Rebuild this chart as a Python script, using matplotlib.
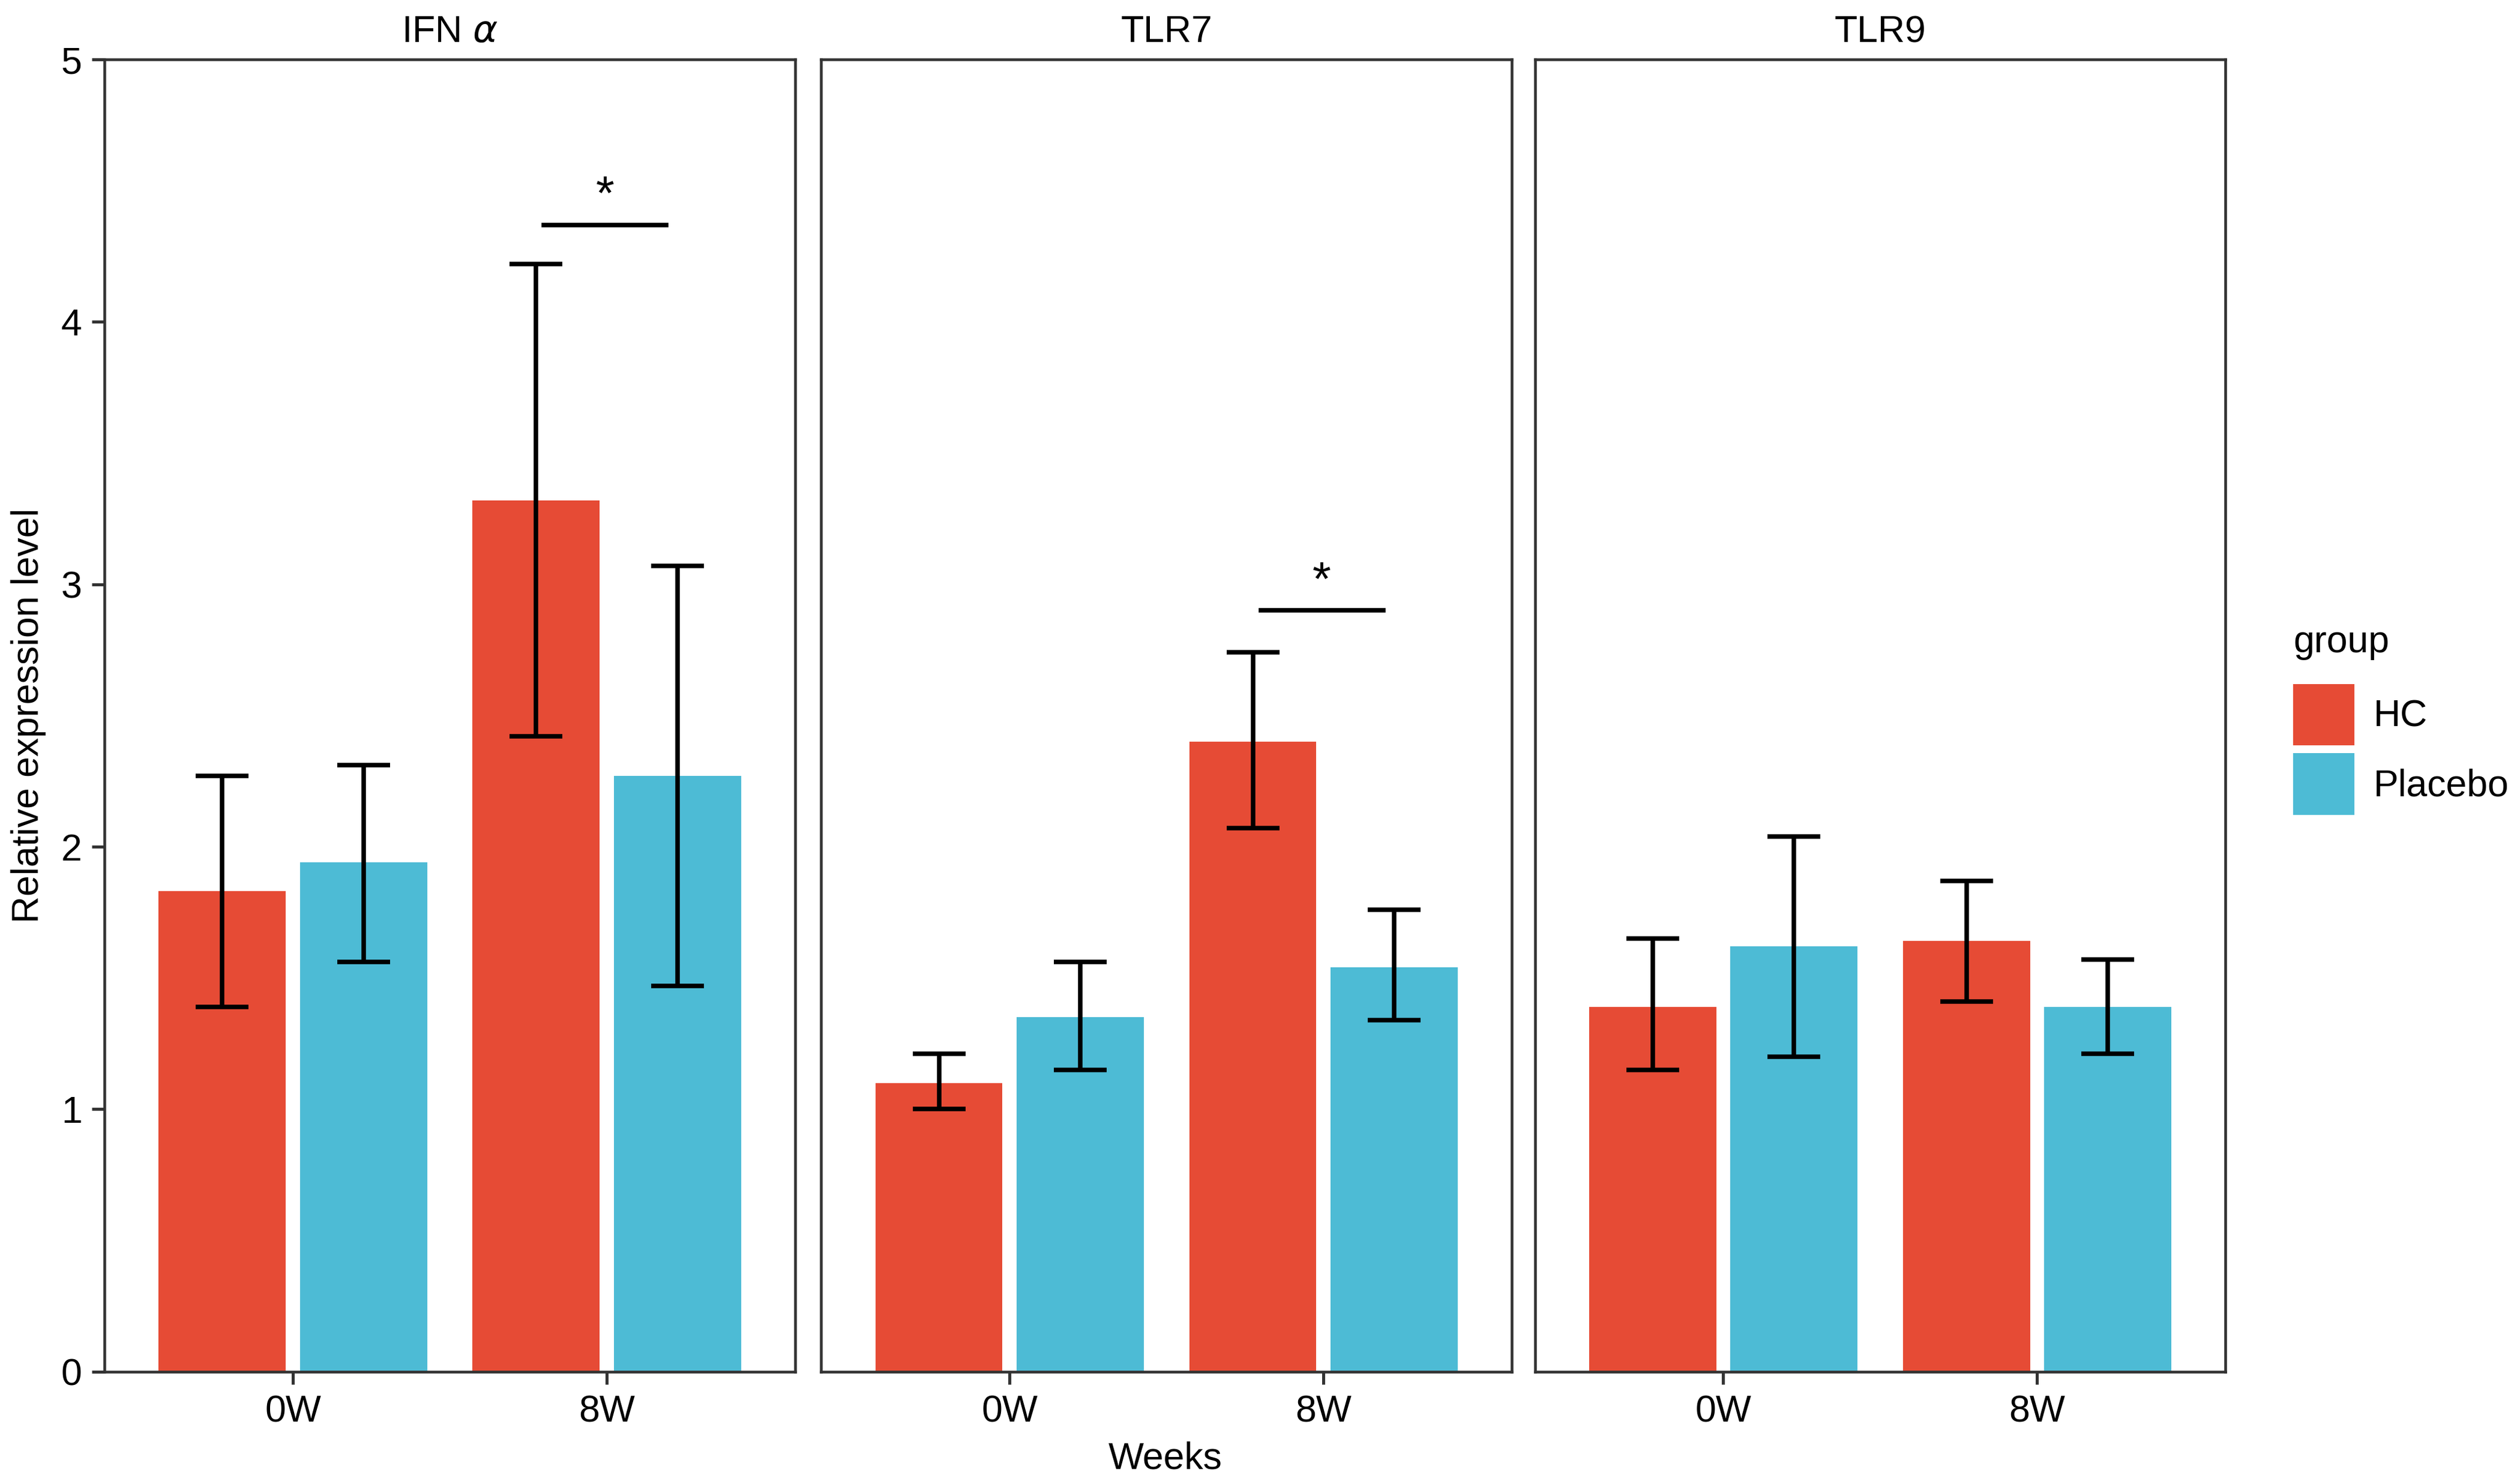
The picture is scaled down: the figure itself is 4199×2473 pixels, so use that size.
import numpy as np
import matplotlib.pyplot as plt

plt.rcParams['font.family'] = ['Liberation Sans', 'DejaVu Sans']

# data
genes = ['IFN $\\alpha$', 'TLR7', 'TLR9']
weeks = ['0W', '8W']
groups = ['HC', 'Placebo']
colors = ['#E64B35', '#4DBBD5']

# mean values [gene][week], one list per group
hc_mean = [[1.83, 3.32], [1.10, 2.40], [1.39, 1.64]]
pl_mean = [[1.94, 2.27], [1.35, 1.54], [1.62, 1.39]]
hc_low = [[1.39, 2.42], [1.00, 2.07], [1.15, 1.41]]
hc_high = [[2.27, 4.22], [1.21, 2.74], [1.65, 1.87]]
pl_low = [[1.56, 1.47], [1.15, 1.34], [1.20, 1.21]]
pl_high = [[2.31, 3.07], [1.56, 1.76], [2.04, 1.57]]

# significance marks: (gene index, week index, y)
sig_marks = [(0, 1, 4.37), (1, 1, 2.90)]

fig = plt.figure(figsize=(4199 / 300, 2473 / 300), dpi=300)
lefts = [0.0415, 0.3259, 0.6091]
width = 0.2740
bottom, height = 0.0758, 0.8841

frame_col = '#333333'
x = np.arange(1, len(weeks) + 1)
off = 0.225
bw = 0.405

axes = []
for i, gene in enumerate(genes):
    ax = fig.add_axes([lefts[i], bottom, width, height])
    axes.append(ax)
    means = [hc_mean[i], pl_mean[i]]
    lows = [hc_low[i], pl_low[i]]
    highs = [hc_high[i], pl_high[i]]
    for g in range(2):
        xs = x + (g * 2 - 1) * off
        m = np.array(means[g])
        lo = np.array(lows[g])
        hi = np.array(highs[g])
        ax.bar(xs, m, width=bw, color=colors[g], label=groups[g], zorder=2)
        ax.errorbar(xs, m, yerr=[m - lo, hi - m], fmt='none', ecolor='black',
                    elinewidth=1.8, capsize=10.5, capthick=1.8, zorder=3)
    for gi, wi, y in sig_marks:
        if gi == i:
            ax.plot([x[wi] - 0.20, x[wi] + 0.19], [y, y], color='black', lw=1.8, zorder=3)
            ax.text(x[wi] - 0.005, y + 0.02, '*', ha='center', va='bottom', fontsize=19)
    ax.set_xlim(0.4, 2.6)
    ax.set_ylim(0, 5)
    ax.set_xticks(x)
    ax.set_xticklabels(weeks, fontsize=15)
    ax.set_yticks([0, 1, 2, 3, 4, 5])
    ax.tick_params(axis='both', direction='out', length=5, width=1.2, color=frame_col,
                   labelsize=15, pad=4)
    if i > 0:
        ax.tick_params(axis='y', left=False, labelleft=False)
    for s in ax.spines.values():
        s.set_color(frame_col)
        s.set_linewidth(1.1)
    ax.set_title(gene, fontsize=15, pad=7)

axes[0].set_ylabel('Relative expression level', fontsize=15, labelpad=6)
fig.text(0.4623, 0.005, 'Weeks', ha='center', va='bottom', fontsize=15)

handles, labels = axes[0].get_legend_handles_labels()
leg = fig.legend(handles, labels, title='group', loc='center left',
                 bbox_to_anchor=(0.8967, 0.515), frameon=False, fontsize=15,
                 title_fontsize=15, handlelength=1.63, handleheight=2.14,
                 handletextpad=0.5, labelspacing=0.21)
leg._legend_box.align = 'left'
leg._legend_box.sep = 9.5  # extra room between title and keys

fig.savefig('out.png', dpi=300)
